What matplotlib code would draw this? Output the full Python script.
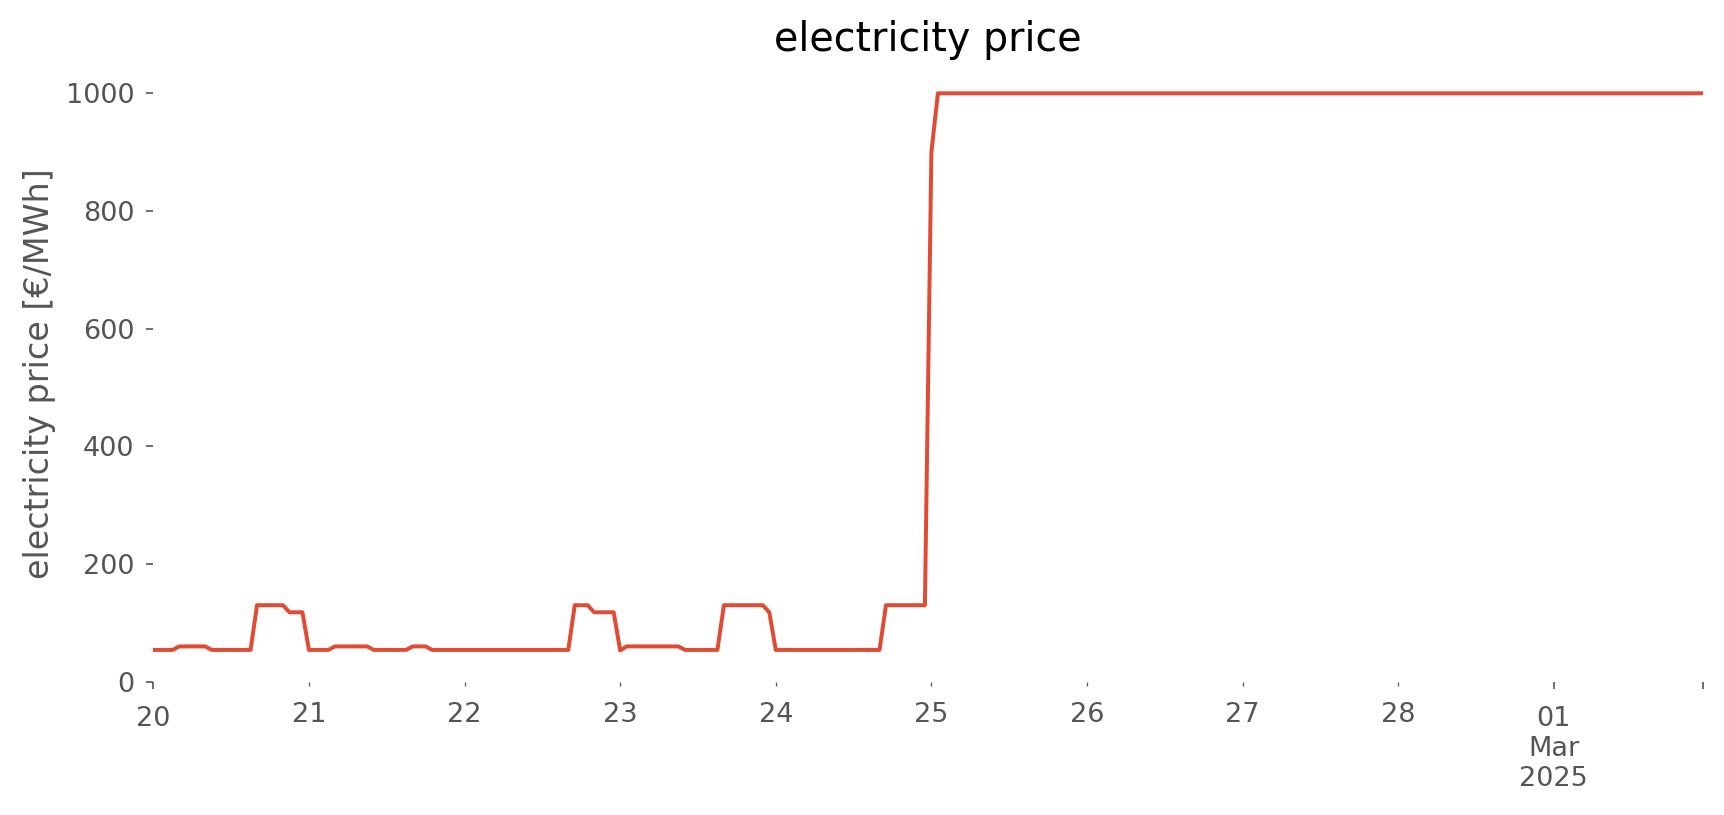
import numpy as np
import pandas as pd
import matplotlib
matplotlib.use("Agg")
import matplotlib.pyplot as plt

# hourly price, stored as (level, number of hours held)
price_levels = [54, 60, 54, 130, 118,
                54, 60, 54, 60, 54, 130, 118,
                53, 60, 54, 130, 118,
                54, 130, 900, 1000]
hours_held = [4, 5, 7, 5, 3,
              4, 6, 6, 3, 22, 3, 4,
              1, 9, 6, 7, 1,
              17, 7, 1, 119]

start = "2025-02-20 00:00"
major_ticks = ["2025-02-20 00:00", "2025-03-01 00:00", "2025-03-01 23:00"]
major_labels = ["20", "01\nMar\n2025", ""]
minor_ticks = ["2025-02-21", "2025-02-22", "2025-02-23", "2025-02-24",
               "2025-02-25", "2025-02-26", "2025-02-27", "2025-02-28"]
minor_labels = ["21", "22", "23", "24", "25", "26", "27", "28"]
y_ticks = [0, 200, 400, 600, 800, 1000]

prices = np.repeat(price_levels, hours_held)
idx = pd.date_range(start, periods=len(prices), freq="h")
price = pd.Series(prices, index=idx)

plt.style.use("ggplot")
plt.rcParams["font.family"] = ["DejaVu Sans"]

# axes box in pixels: y=0 at 681.7, y=1000 at 93.3, top limit keeps the default margin
y_top = 1047.3
px_per_unit = (681.7 - 93.3) / 1000
ax_h = y_top * px_per_unit

fig = plt.figure(figsize=(1724 / 150, 815 / 150), dpi=150, facecolor="white")
ax = fig.add_axes([153.3 / 1724, 1 - 681.7 / 815, (1703 - 153.3) / 1724, ax_h / 815])
ax.set_facecolor("white")
ax.grid(False)
for s in ax.spines.values():
    s.set_visible(False)

ax.plot(price.index, price.values, color="#E24A33", linewidth=1.9)

ax.set_xlim(idx[0], idx[-1])
ax.set_ylim(0, y_top)
ax.set_yticks(y_ticks)
ax.set_xticks(pd.to_datetime(major_ticks, format="%Y-%m-%d %H:%M"), major_labels)
ax.set_xticks(pd.to_datetime(minor_ticks, format="%Y-%m-%d"), minor_labels, minor=True)
ax.tick_params(axis="x", which="major", colors="#555555", labelsize=13, pad=8.0)
ax.tick_params(axis="x", which="minor", colors="#555555", labelsize=13, pad=7.8)
ax.tick_params(axis="y", colors="#555555", labelsize=13, pad=5.6)

ax.set_title("electricity price", fontsize=19, color="black", pad=7)
ax.set_ylabel("electricity price [€/MWh]", fontsize=16, color="#555555")
ax.yaxis.set_label_coords(-0.0627, 0.5)

fig.savefig("out.png", dpi=150, facecolor="white")
